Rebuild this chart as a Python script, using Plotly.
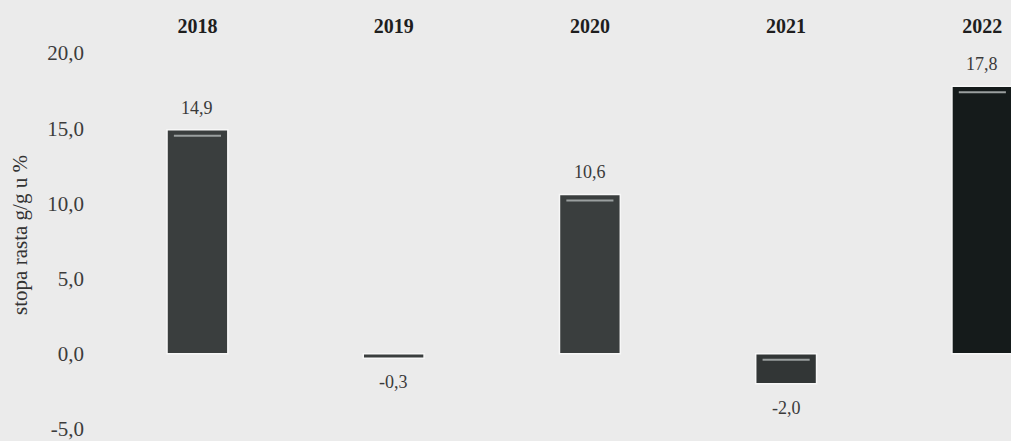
import plotly.graph_objects as go

years = ["2018", "2019", "2020", "2021", "2022"]
growth = [14.9, -0.3, 10.6, -2.0, 17.8]
bar_colors = ["#3a3e3e", "#3a3e3e", "#3a3e3e", "#323636", "#151b1b"]
y_ticks = [-5, 0, 5, 10, 15, 20]
y_title = "stopa rasta g/g u %"

SERIF = "Liberation Serif"


def fmt(v):
    return f"{v:.1f}".replace(".", ",")


fig = go.Figure()
fig.add_trace(go.Bar(
    x=list(range(len(years))), y=growth,
    marker=dict(color=bar_colors, line=dict(color="#f7f7f7", width=1.5)),
    width=0.31,
    showlegend=False,
    hoverinfo="skip",
))

# value labels and the light highlight line near the top of each bar
for i, v in enumerate(growth):
    fig.add_annotation(
        x=i, y=v, text=fmt(v),
        showarrow=False, yshift=22 if v >= 0 else -24,
        font=dict(family=SERIF, size=18, color="#3a3a3a"),
    )
    if abs(v) > 1:
        top = max(v, 0)
        fig.add_shape(
            type="line", xref="x", yref="y",
            x0=i - 0.12, x1=i + 0.12, y0=top - 0.4, y1=top - 0.4,
            line=dict(color="#9a9f9f", width=2),
        )

fig.update_layout(
    width=1011, height=441,
    margin=dict(l=85, r=0, t=32, b=1),
    paper_bgcolor="#ebebeb", plot_bgcolor="#ebebeb",
    font=dict(family=SERIF, color="#333333"),
    xaxis=dict(
        range=[-0.573, 4.146],
        tickvals=list(range(len(years))), ticktext=years,
        side="top", ticklabelstandoff=-6,
        showgrid=False, zeroline=False, showline=False, ticks="",
        tickfont=dict(family=SERIF, size=20, color="#1e1e1e", weight="bold"),
    ),
    yaxis=dict(
        range=[-5.6, 21.4], tickvals=y_ticks, ticktext=[fmt(t) for t in y_ticks],
        ticklabeloverflow="allow",
        showgrid=False, zeroline=False, showline=False, ticks="",
        tickfont=dict(family=SERIF, size=21, color="#3c3c3c"),
        title=dict(text=y_title, font=dict(family=SERIF, size=21, color="#333333"), standoff=13),
    ),
)

fig.write_html("out.html", config={"displayModeBar": False},
               post_script="document.body.style.margin='0';")
